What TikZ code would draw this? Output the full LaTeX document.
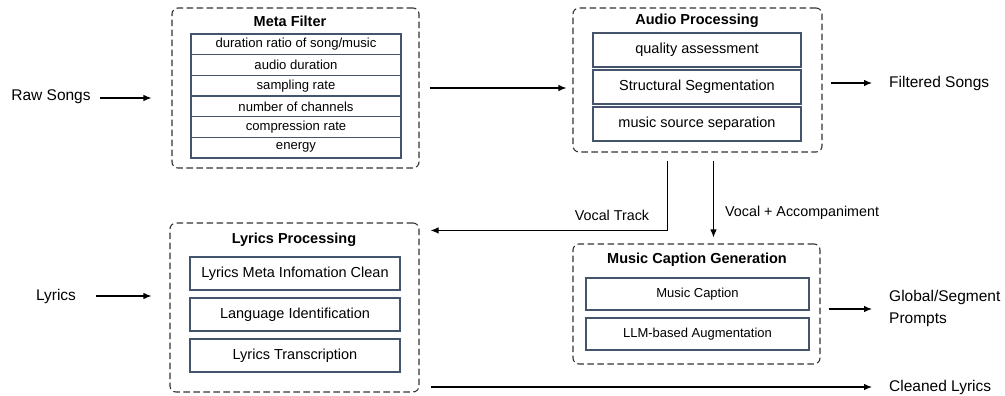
\documentclass[tikz,border=0pt]{standalone}
\usepackage{fontspec}
\setmainfont{Liberation Sans}
\usetikzlibrary{arrows.meta}
\definecolor{boxblue}{HTML}{44546A}
\definecolor{dashgray}{HTML}{333333}
\begin{document}
\begin{tikzpicture}[x=1pt,y=-1pt,
  outerbox/.style={draw=dashgray, line width=1.1pt, dash pattern=on 6.5pt off 3.5pt, rounded corners=6pt, inner sep=0pt},
  innerbox/.style={draw=boxblue, line width=1.1pt, fill=white, inner sep=0pt, font=\fontsize{14.5}{17}\selectfont},
  rowbox/.style={draw=boxblue, line width=1.1pt, fill=white, inner sep=0pt, minimum width=210pt, minimum height=20.67pt, font=\fontsize{13.1}{15}\selectfont},
  capbox/.style={draw=boxblue, line width=1.1pt, fill=white, inner sep=0pt, minimum width=223pt, minimum height=32pt, font=\fontsize{13}{15}\selectfont},
  ttl/.style={inner sep=0pt, font=\fontsize{14.5}{17}\selectfont\bfseries},
  lbl/.style={inner sep=0pt, font=\fontsize{15.5}{22}\selectfont},
  elbl/.style={inner sep=0pt, font=\fontsize{14.3}{17}\selectfont},
  arr/.style={draw=black, line width=1.1pt, -{Latex[length=8pt,width=6.5pt]}}
]
\useasboundingbox (0,0) rectangle (1005,396);

% outer boxes
\node[outerbox, minimum width=247pt, minimum height=160pt] (meta) at (295.5,88) {};
\node[outerbox, minimum width=249pt, minimum height=144pt] (audio) at (697.5,80) {};
\node[outerbox, minimum width=247pt, minimum height=120pt] (mcg) at (696.5,304) {};
\node[outerbox, minimum width=249pt, minimum height=169pt] (lyrics) at (294.5,307.5) {};

% titles
\node[ttl] (metat) at (290,21) {Meta Filter};
\node[ttl] (audiot) at (697,21) {Audio Processing};
\node[ttl] (mcgt) at (697,260) {Music Caption Generation};
\node[ttl] (lyricst) at (294,240) {Lyrics Processing};

% meta filter table
\node[rowbox] (m1) at (296,44.33) {duration ratio of song/music};
\node[rowbox] (m2) at (296,65.00) {audio duration};
\node[rowbox] (m3) at (296,85.67) {sampling rate};
\node[rowbox] (m4) at (296,106.33) {number of channels};
\node[rowbox] (m5) at (296,127.00) {compression rate};
\node[rowbox] (m6) at (296,147.67) {energy};

% audio processing
\node[innerbox, minimum width=208pt, minimum height=34pt] (a1) at (697,50) {quality assessment};
\node[innerbox, minimum width=208pt, minimum height=34pt] (a2) at (697,87) {Structural Segmentation};
\node[innerbox, minimum width=208pt, minimum height=34pt] (a3) at (697,124) {music source separation};

% music caption generation
\node[capbox] (c1) at (697.5,294) {Music Caption};
\node[capbox] (c2) at (697.5,334) {LLM-based Augmentation};

% lyrics processing
\node[innerbox, minimum width=210pt, minimum height=33pt] (l1) at (295,273.5) {Lyrics Meta Infomation Clean};
\node[innerbox, minimum width=210pt, minimum height=33pt] (l2) at (295,314.5) {Language Identification};
\node[innerbox, minimum width=210pt, minimum height=33pt] (l3) at (295,355.5) {Lyrics Transcription};

% external labels
\node[lbl] (raw) at (51,97) {Raw Songs};
\node[lbl] (lyr) at (56,296) {Lyrics};
\node[lbl, anchor=west] (filtered) at (889,83) {Filtered Songs};
\node[lbl, anchor=west, align=left] (global) at (889,308) {Global/Segment\\Prompts};
\node[lbl, anchor=west] (cleaned) at (889,387) {Cleaned Lyrics};

% connectors
\draw[arr, shorten <=9pt, shorten >=20pt] ([yshift=-1pt]raw.east) -- ([yshift=-1pt]raw.east -| meta.west);
\draw[arr, shorten <=10pt, shorten >=6pt] (meta.east) -- (meta.east -| audio.west);
\draw[arr, shorten <=8pt, shorten >=17pt] (filtered.west -| audio.east) -- (filtered.west);
\draw[arr, shorten <=20pt, shorten >=18pt] (lyr.east) -- (lyr.east -| lyrics.west);
\draw[arr, shorten <=8pt, shorten >=17pt] ([yshift=-1pt]global.west -| mcg.east) -- ([yshift=-1pt]global.west);
\draw[arr, shorten <=11pt, shorten >=17pt] (cleaned.west -| lyrics.east) -- (cleaned.west);

\draw[arr] ([shift={(-30,8)}]audio.south) |- ([shift={(11,8)}]lyrics.north east);
\draw[arr, shorten >=6pt] ([shift={(16,8)}]audio.south) -- ([xshift=17pt]mcg.north);

\node[elbl] (vtl) at (612,215) {Vocal Track};
\node[elbl, anchor=west] (val) at (725,213) {Vocal + Accompaniment};
\end{tikzpicture}
\end{document}
